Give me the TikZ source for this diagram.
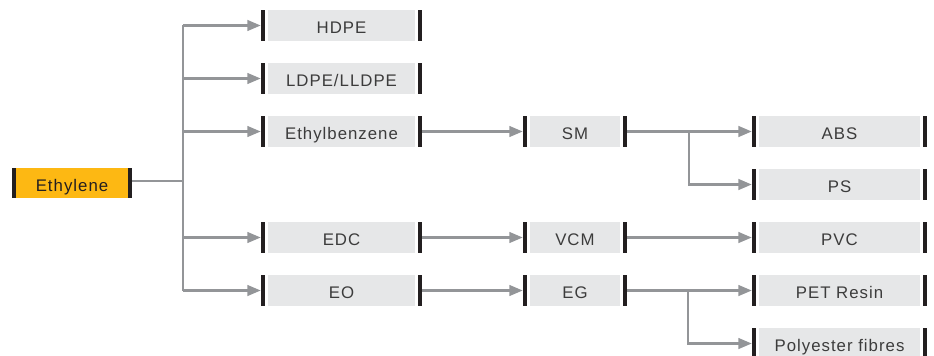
\documentclass[tikz,border=0pt]{standalone}
\usepackage{fontspec}
\setmainfont{Liberation Sans}[LetterSpace=6]
\usetikzlibrary{arrows.meta}
\definecolor{boxgray}{HTML}{E6E7E8}
\definecolor{bargray}{HTML}{231F20}
\definecolor{linegray}{HTML}{939598}
\definecolor{txtgray}{HTML}{3C3C3C}
\definecolor{ethyellow}{HTML}{FDB813}
\tikzset{
  stage/.style={fill=white, minimum width=#1, minimum height=23.25pt, inner sep=0pt,
    font=\fontsize{12.6}{14}\selectfont, text=txtgray, text height=12.6pt, text depth=0pt,
    path picture={
      \fill[boxgray] ([xshift=5pt]path picture bounding box.south west) rectangle ([xshift=-5pt]path picture bounding box.north east);
      \fill[bargray] (path picture bounding box.south west) rectangle ([xshift=3pt]path picture bounding box.north west);
      \fill[bargray] ([xshift=-3pt]path picture bounding box.south east) rectangle (path picture bounding box.north east);
    }},
  feed/.style={fill=ethyellow, minimum width=90pt, minimum height=22.5pt, inner sep=0pt,
    font=\fontsize{12.6}{14}\selectfont, text=bargray, text height=12pt, text depth=0pt,
    path picture={
      \fill[bargray] (path picture bounding box.south west) rectangle ([xshift=3pt]path picture bounding box.north west);
      \fill[bargray] ([xshift=-3pt]path picture bounding box.south east) rectangle (path picture bounding box.north east);
    }},
  link/.style={draw=linegray, line width=1.6pt},
  flow/.style={link, -{Triangle[length=10pt,width=8pt]}}
}
\begin{document}
\begin{tikzpicture}[x=0.75pt,y=-0.75pt,node distance=39.75pt]
\useasboundingbox (0,0) rectangle (934,356);

% feedstock
\node (eth) [feed] at (72,183) {Ethylene};

% first products
\node (hdpe) [stage=120.75pt] at (341.5,25.5) {HDPE};
\node (ldpe) [stage=120.75pt, below of=hdpe] {LDPE/LLDPE};
\node (eb)   [stage=120.75pt, below of=ldpe] {Ethylbenzene};
\node (edc)  [stage=120.75pt, below of=eb, node distance=79.5pt] {EDC};
\node (eo)   [stage=120.75pt, below of=edc] {EO};

% intermediates
\node (sm)  [stage=78pt, right of=eb, node distance=175.1pt] {SM};
\node (vcm) [stage=78pt, right of=edc, node distance=175.1pt] {VCM};
\node (eg)  [stage=78pt, right of=eo, node distance=175.1pt] {EG};

% end products
\node (abs)  [stage=131.25pt, right of=sm, node distance=198.4pt] {ABS};
\node (ps)   [stage=131.25pt, below of=abs] {PS};
\node (pvc)  [stage=131.25pt, right of=vcm, node distance=198.4pt] {PVC};
\node (pet)  [stage=131.25pt, right of=eg, node distance=198.4pt] {PET Resin};
\node (fibre)[stage=131.25pt, below of=pet] {Polyester fibres};

\coordinate (trunk) at (183,181);
\coordinate (fork1) at (689,131.5);
\coordinate (fork2) at (688,290.5);

% connectors
\draw[link] (eth.east |- trunk) -- (trunk);
\draw[link] (trunk |- hdpe.west) -- (trunk |- eo.west);
\foreach \n in {hdpe,ldpe,eb,edc,eo}
  \draw[flow] (trunk |- \n.west) -- (\n.west);
\draw[flow] (eb.east) -- (sm.west);
\draw[flow] (edc.east) -- (vcm.west);
\draw[flow] (eo.east) -- (eg.west);
\draw[flow] (sm.east) -- (abs.west);
\draw[flow] (fork1) |- (ps.west);
\draw[flow] (vcm.east) -- (pvc.west);
\draw[flow] (eg.east) -- (pet.west);
\draw[flow] (fork2) |- (fibre.west);
\end{tikzpicture}
\end{document}
